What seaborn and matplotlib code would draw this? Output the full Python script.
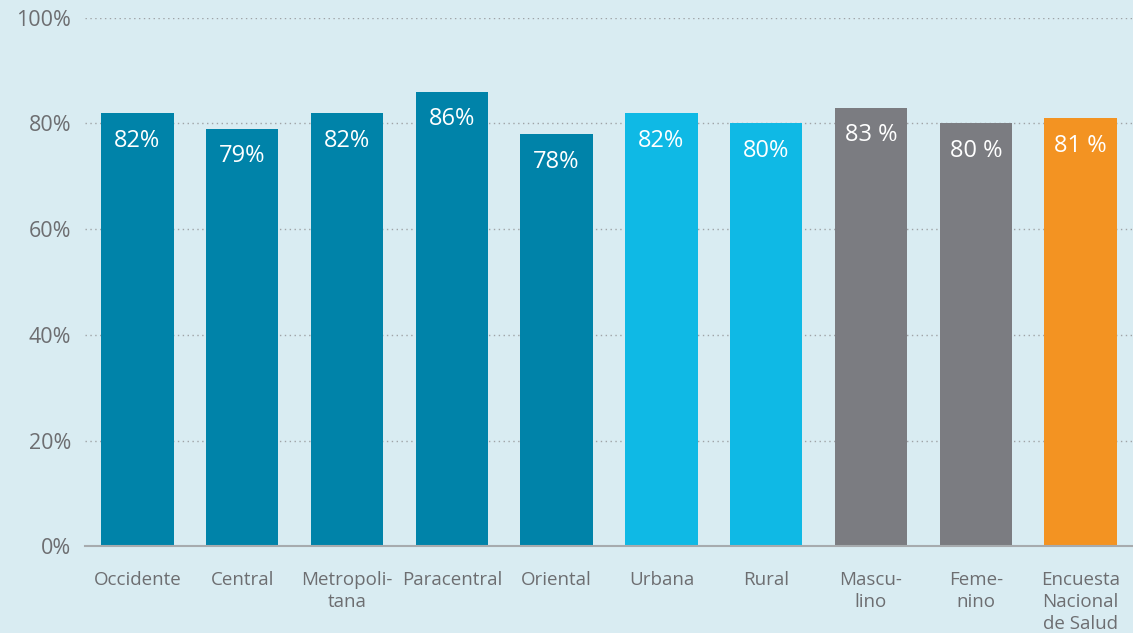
import pandas as pd
import seaborn as sns
import matplotlib.pyplot as plt

# data
categories = ["Occidente", "Central", "Metropolitana", "Paracentral", "Oriental",
              "Urbana", "Rural", "Masculino", "Femenino", "Encuesta Nacional de Salud"]
tick_labels = ["Occidente", "Central", "Metropoli-\ntana", "Paracentral", "Oriental",
               "Urbana", "Rural", "Mascu-\nlino", "Feme-\nnino", "Encuesta\nNacional\nde Salud"]
values = [82, 79, 82, 86, 78, 82, 80, 83, 80, 81]
value_labels = ["82%", "79%", "82%", "86%", "78%", "82%", "80%", "83 %", "80 %", "81 %"]
groups = ["region"] * 5 + ["area"] * 2 + ["sexo"] * 2 + ["total"]

group_colors = {"region": "#0083a9", "area": "#0fb9e5", "sexo": "#7b7c81", "total": "#f39322"}
bg = "#d9ecf2"
txt = "#6d6e71"

df = pd.DataFrame({"cat": categories, "val": values, "grp": groups})

sns.set_theme(style="white")
plt.rcParams['font.family'] = ['Open Sans', 'DejaVu Sans']

fig = plt.figure(figsize=(11.33, 6.33), dpi=100, facecolor=bg)
ax = fig.add_axes([0.075, 0.137, 0.925, 0.835])
ax.set_facecolor(bg)

sns.barplot(data=df, x="cat", y="val", hue="cat",
            palette=[group_colors[g] for g in groups],
            width=0.69, saturation=1, legend=False, ax=ax, zorder=3, linewidth=0)

# value labels inside the bars, near the top
for patch, lab in zip(ax.patches, value_labels):
    ax.annotate(lab, (patch.get_x() + patch.get_width() / 2, patch.get_height()),
                xytext=(0, -20), textcoords="offset points", ha="center", va="center",
                color="white", fontsize=17, zorder=4)

ax.set_ylim(0, 100)
ax.set_xlim(-0.5, 9.5)
ax.set_yticks([0, 20, 40, 60, 80, 100])
ax.set_yticklabels([f"{v}%" for v in [0, 20, 40, 60, 80, 100]], color=txt, fontsize=15.5)
ax.set_xticks(range(len(categories)))
ax.set_xticklabels(tick_labels, color=txt, fontsize=13.5, linespacing=1.28, va="top")
ax.tick_params(axis="x", length=0, pad=18)
ax.tick_params(axis="y", length=0, pad=10)

for v in [20, 40, 60, 80, 100]:
    ax.axhline(v, color="#9fa3a6", linestyle=(0, (1, 2.5)), linewidth=1, zorder=1)

for s in ["top", "right", "left"]:
    ax.spines[s].set_visible(False)
ax.spines["bottom"].set_color("#a7abae")
ax.spines["bottom"].set_linewidth(1.5)
ax.spines["bottom"].set_zorder(5)

ax.set_xlabel("")
ax.set_ylabel("")

fig.savefig("out.png", dpi=100, facecolor=bg)
